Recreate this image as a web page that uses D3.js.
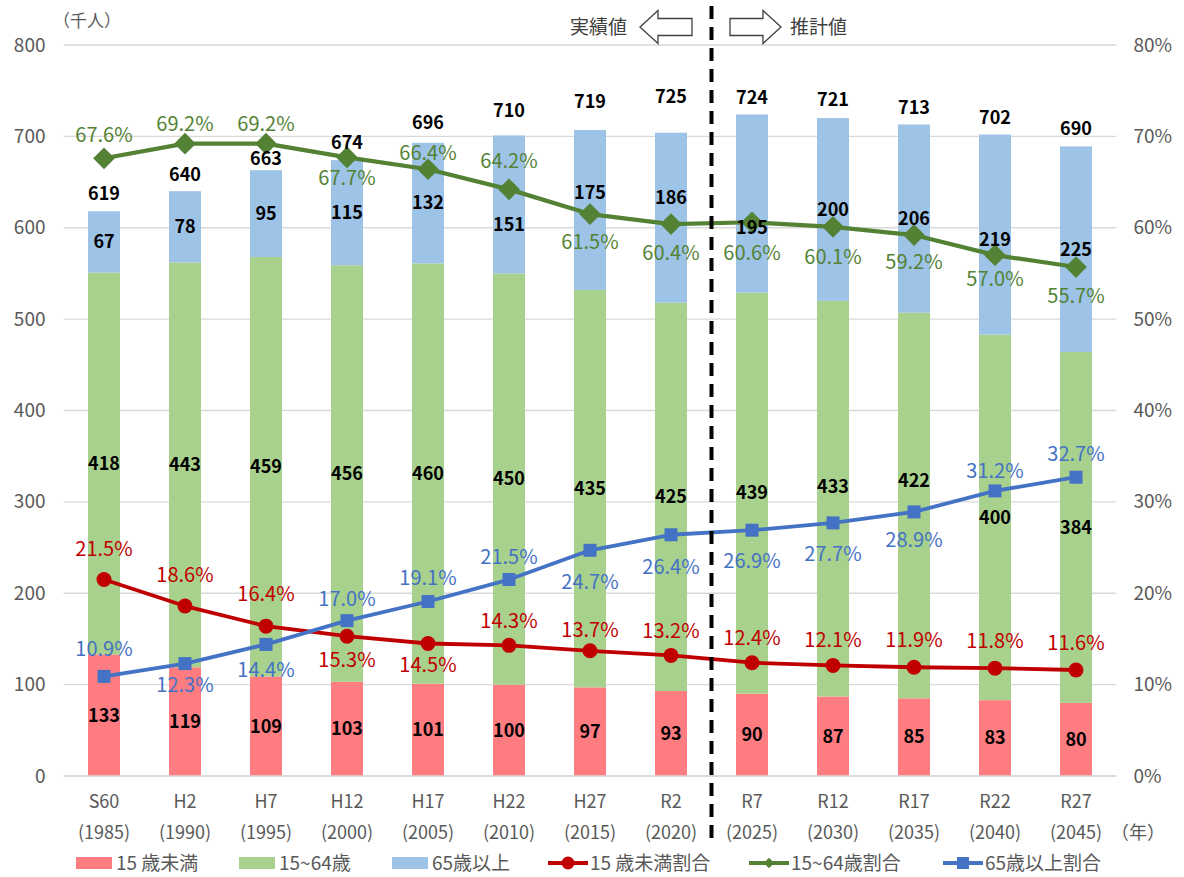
<!DOCTYPE html>
<html lang="ja">
<head>
<meta charset="utf-8">
<script src="https://cdn.jsdelivr.net/npm/d3@7"></script>
<style>
  html, body { margin: 0; padding: 0; background: #fff; }
  svg { display: block; font-family: "Noto Sans CJK JP", "Noto Sans", sans-serif; }
</style>
</head>
<body>
<svg id="chart" width="1184" height="877"></svg>
<script>
// 年次（和暦・西暦）
const eraLabels  = ["S60", "H2", "H7", "H12", "H17", "H22", "H27", "R2", "R7", "R12", "R17", "R22", "R27"];
const yearLabels = ["(1985)", "(1990)", "(1995)", "(2000)", "(2005)", "(2010)", "(2015)", "(2020)", "(2025)", "(2030)", "(2035)", "(2040)", "(2045)"];

// 年齢3区分別人口（千人）
const under15 = [133, 119, 109, 103, 101, 100, 97, 93, 90, 87, 85, 83, 80];
const age15to64 = [418, 443, 459, 456, 460, 450, 435, 425, 439, 433, 422, 400, 384];
const age65plus = [67, 78, 95, 115, 132, 151, 175, 186, 195, 200, 206, 219, 225];
// 総人口（年齢不詳を含む）
const totals = [619, 640, 663, 674, 696, 710, 719, 725, 724, 721, 713, 702, 690];

// 年齢3区分別割合（%）
const under15Share = [21.5, 18.6, 16.4, 15.3, 14.5, 14.3, 13.7, 13.2, 12.4, 12.1, 11.9, 11.8, 11.6];
const age15to64Share = [67.6, 69.2, 69.2, 67.7, 66.4, 64.2, 61.5, 60.4, 60.6, 60.1, 59.2, 57.0, 55.7];
const age65plusShare = [10.9, 12.3, 14.4, 17.0, 19.1, 21.5, 24.7, 26.4, 26.9, 27.7, 28.9, 31.2, 32.7];

// 軸目盛
const leftTicks = [0, 100, 200, 300, 400, 500, 600, 700, 800];
const rightTicks = [0, 10, 20, 30, 40, 50, 60, 70, 80];

// 実績値と推計値の境目（R2 と R7 の間）
const lastActualIndex = 7;

// ---- 描画設定 ----
const svg = d3.select("#chart");
const plot = { left: 63.5, right: 1116.5, top: 45, bottom: 776 };

const COL = {
  under15: "#FF7C80", mid: "#A9D18E", old: "#9DC3E6",
  under15Line: "#C00000", midLine: "#548235", oldLine: "#4472C4",
  axisText: "#595959", grid: "#D9D9D9"
};

const x = d3.scaleBand()
  .domain(d3.range(eraLabels.length))
  .range([plot.left, plot.right])
  .paddingInner(0.605)
  .paddingOuter(0.3025);
const cx = i => x(i) + x.bandwidth() / 2;

const yL = d3.scaleLinear().domain([0, 800]).range([plot.bottom, plot.top]);
const yR = d3.scaleLinear().domain([0, 80]).range([plot.bottom, plot.top]);

// 目盛線
const gridG = svg.append("g");
gridG.selectAll("line").data(leftTicks).join("line")
  .attr("x1", plot.left).attr("x2", plot.right)
  .attr("y1", d => yL(d)).attr("y2", d => yL(d))
  .attr("stroke", COL.grid).attr("stroke-width", 1.3);

// 左軸
const leftAxis = svg.append("g").attr("transform", `translate(${plot.left},0)`)
  .call(d3.axisLeft(yL).tickValues(leftTicks).tickSize(0).tickPadding(18).tickFormat(d3.format("d")));
leftAxis.select(".domain").remove();
leftAxis.selectAll("text").attr("font-size", 19).attr("fill", COL.axisText)
  .attr("font-family", "\"Noto Sans CJK JP\", sans-serif");

// 右軸
const rightAxis = svg.append("g").attr("transform", `translate(${plot.right},0)`)
  .call(d3.axisRight(yR).tickValues(rightTicks).tickSize(0).tickPadding(17).tickFormat(d => d + "%"));
rightAxis.select(".domain").remove();
rightAxis.selectAll("text").attr("font-size", 19).attr("fill", COL.axisText)
  .attr("font-family", "\"Noto Sans CJK JP\", sans-serif");

// 単位
svg.append("text").attr("x", 53).attr("y", 27).attr("font-size", 17)
  .attr("fill", COL.axisText).text("（千人）");

// 積み上げ棒
const stackRows = eraLabels.map((_, i) => ({ i, u: under15[i], m: age15to64[i], o: age65plus[i] }));
const stack = d3.stack().keys(["u", "m", "o"])(stackRows);
const fills = { u: COL.under15, m: COL.mid, o: COL.old };

const barG = svg.append("g");
stack.forEach(layer => {
  barG.append("g").attr("fill", fills[layer.key])
    .selectAll("rect").data(layer).join("rect")
    .attr("x", d => x(d.data.i))
    .attr("width", x.bandwidth())
    .attr("y", d => yL(d[1]))
    .attr("height", d => yL(d[0]) - yL(d[1]));
});

// 横軸線
svg.append("line").attr("x1", plot.left).attr("x2", plot.right)
  .attr("y1", plot.bottom).attr("y2", plot.bottom)
  .attr("stroke", COL.grid).attr("stroke-width", 1.5);

// 横軸ラベル
const xLab = svg.append("g").attr("font-size", 18).attr("fill", COL.axisText).attr("text-anchor", "middle");
eraLabels.forEach((t, i) => {
  xLab.append("text").attr("x", cx(i)).attr("y", 802).attr("dy", "0.35em").text(t);
  xLab.append("text").attr("x", cx(i)).attr("y", 833).attr("dy", "0.35em").text(yearLabels[i]);
});
xLab.append("text").attr("x", 1138).attr("y", 833).attr("dy", "0.35em").text("（年）");

// 割合の折れ線
const lineR = d3.line().x((d, i) => cx(i)).y(d => yR(d));
const lineG = svg.append("g").attr("fill", "none");

lineG.append("path").datum(under15Share).attr("d", lineR)
  .attr("stroke", COL.under15Line).attr("stroke-width", 3.8).attr("stroke-linejoin", "round");
lineG.append("path").datum(age15to64Share).attr("d", lineR)
  .attr("stroke", COL.midLine).attr("stroke-width", 4.2).attr("stroke-linejoin", "round");
lineG.append("path").datum(age65plusShare).attr("d", lineR)
  .attr("stroke", COL.oldLine).attr("stroke-width", 3.8).attr("stroke-linejoin", "round");

const markG = svg.append("g");
markG.selectAll("circle.u").data(under15Share).join("circle")
  .attr("cx", (d, i) => cx(i)).attr("cy", d => yR(d)).attr("r", 7.5)
  .attr("fill", COL.under15Line);
markG.selectAll("path.m").data(age15to64Share).join("path")
  .attr("transform", (d, i) => `translate(${cx(i)},${yR(d)})`)
  .attr("d", d3.symbol(d3.symbolDiamond2, 300)())
  .attr("fill", COL.midLine);
markG.selectAll("rect.o").data(age65plusShare).join("rect")
  .attr("x", (d, i) => cx(i) - 6.5).attr("y", d => yR(d) - 6.5)
  .attr("width", 13).attr("height", 13)
  .attr("fill", COL.oldLine);

// 実績値／推計値の区切り線
const splitX = (cx(lastActualIndex) + cx(lastActualIndex + 1)) / 2;
svg.append("line").attr("x1", splitX).attr("x2", splitX).attr("y1", 6).attr("y2", 845)
  .attr("stroke", "#000").attr("stroke-width", 4).attr("stroke-dasharray", "13 8");

// 区切りの矢印と見出し
const arrowG = svg.append("g").attr("fill", "#fff").attr("stroke", "#404040").attr("stroke-width", 1.3);
const arrowPts = (tipX, baseX, tailX, cy) => {
  const s = 8.5, h = 16.5;
  return [[tipX, cy], [baseX, cy - h], [baseX, cy - s], [tailX, cy - s],
          [tailX, cy + s], [baseX, cy + s], [baseX, cy + h]];
};
arrowG.append("polygon").attr("points", arrowPts(640, 658, 692, 27).join(" "));
arrowG.append("polygon").attr("points", arrowPts(781, 763, 730, 27).join(" "));
svg.append("text").attr("x", 627).attr("y", 27).attr("dy", "0.35em").attr("text-anchor", "end")
  .attr("font-size", 19).attr("fill", "#404040").text("実績値");
svg.append("text").attr("x", 790).attr("y", 27).attr("dy", "0.35em")
  .attr("font-size", 19).attr("fill", "#404040").text("推計値");

// 人口のデータラベル
const numG = svg.append("g").attr("font-size", 18).attr("font-weight", "bold")
  .attr("fill", "#000").attr("text-anchor", "middle");
const segLabel = (layerIdx, vals, nudge) => {
  stack[layerIdx].forEach((d, i) => {
    numG.append("text").attr("x", cx(i))
      .attr("y", (yL(d[0]) + yL(d[1])) / 2 + (nudge[i] || 0))
      .attr("dy", "0.35em").text(vals[i]);
  });
};
segLabel(0, under15, {});
segLabel(1, age15to64, { 9: -12, 10: -25 });
segLabel(2, age65plus, { 5: 20, 6: -17, 7: -20, 8: 24, 11: 5 });
const totalNudge = { 2: 6 };
totals.forEach((t, i) => {
  numG.append("text").attr("x", cx(i)).attr("y", yL(t) - 17 + (totalNudge[i] || 0))
    .attr("dy", "0.35em").text(t);
});

// 割合のデータラベル（マーカーからの上下位置）
const pctG = svg.append("g").attr("font-size", 20).attr("text-anchor", "middle");
const pctLabel = (vals, color, offsets) => {
  vals.forEach((v, i) => {
    pctG.append("text").attr("x", cx(i)).attr("y", yR(v) + offsets[i])
      .attr("dy", "0.35em").attr("fill", color).text(v.toFixed(1) + "%");
  });
};
pctLabel(age15to64Share, COL.midLine, [-23, -20, -20, 21, -16, -28, 28, 29, 31, 30, 27, 24, 29]);
pctLabel(under15Share, COL.under15Line, [-31, -31, -32, 24, 21, -24, -21, -24, -25, -25, -27, -27, -27]);
pctLabel(age65plusShare, COL.oldLine, [-27, 21, 26, -22, -23, -23, 32, 32, 31, 31, 28, -20, -23]);

// 凡例
const legendY = 863;
const legG = svg.append("g").attr("font-size", 19).attr("fill", COL.axisText);
const barLegend = [
  { x: 76, label: "15 歳未満", color: COL.under15 },
  { x: 239, label: "15~64歳", color: COL.mid },
  { x: 392, label: "65歳以上", color: COL.old }
];
barLegend.forEach(e => {
  legG.append("rect").attr("x", e.x).attr("y", legendY - 6).attr("width", 36).attr("height", 12).attr("fill", e.color);
  legG.append("text").attr("x", e.x + 40).attr("y", legendY).attr("dy", "0.35em").text(e.label);
});
const lineLegend = [
  { x: 548, label: "15 歳未満割合", color: COL.under15Line, mark: "circle" },
  { x: 749, label: "15~64歳割合", color: COL.midLine, mark: "diamond" },
  { x: 943, label: "65歳以上割合", color: COL.oldLine, mark: "square" }
];
lineLegend.forEach(e => {
  const mx = e.x + 20;
  legG.append("line").attr("x1", e.x).attr("x2", e.x + 40).attr("y1", legendY).attr("y2", legendY)
    .attr("stroke", e.color).attr("stroke-width", 4);
  if (e.mark === "circle") {
    legG.append("circle").attr("cx", mx).attr("cy", legendY).attr("r", 6.5).attr("fill", e.color);
  } else if (e.mark === "diamond") {
    legG.append("path").attr("transform", `translate(${mx},${legendY})`)
      .attr("d", d3.symbol(d3.symbolDiamond2, 70)()).attr("fill", e.color);
  } else {
    legG.append("rect").attr("x", mx - 6).attr("y", legendY - 6).attr("width", 12).attr("height", 12).attr("fill", e.color);
  }
  legG.append("text").attr("x", e.x + 42).attr("y", legendY).attr("dy", "0.35em").text(e.label);
});
</script>
</body>
</html>
